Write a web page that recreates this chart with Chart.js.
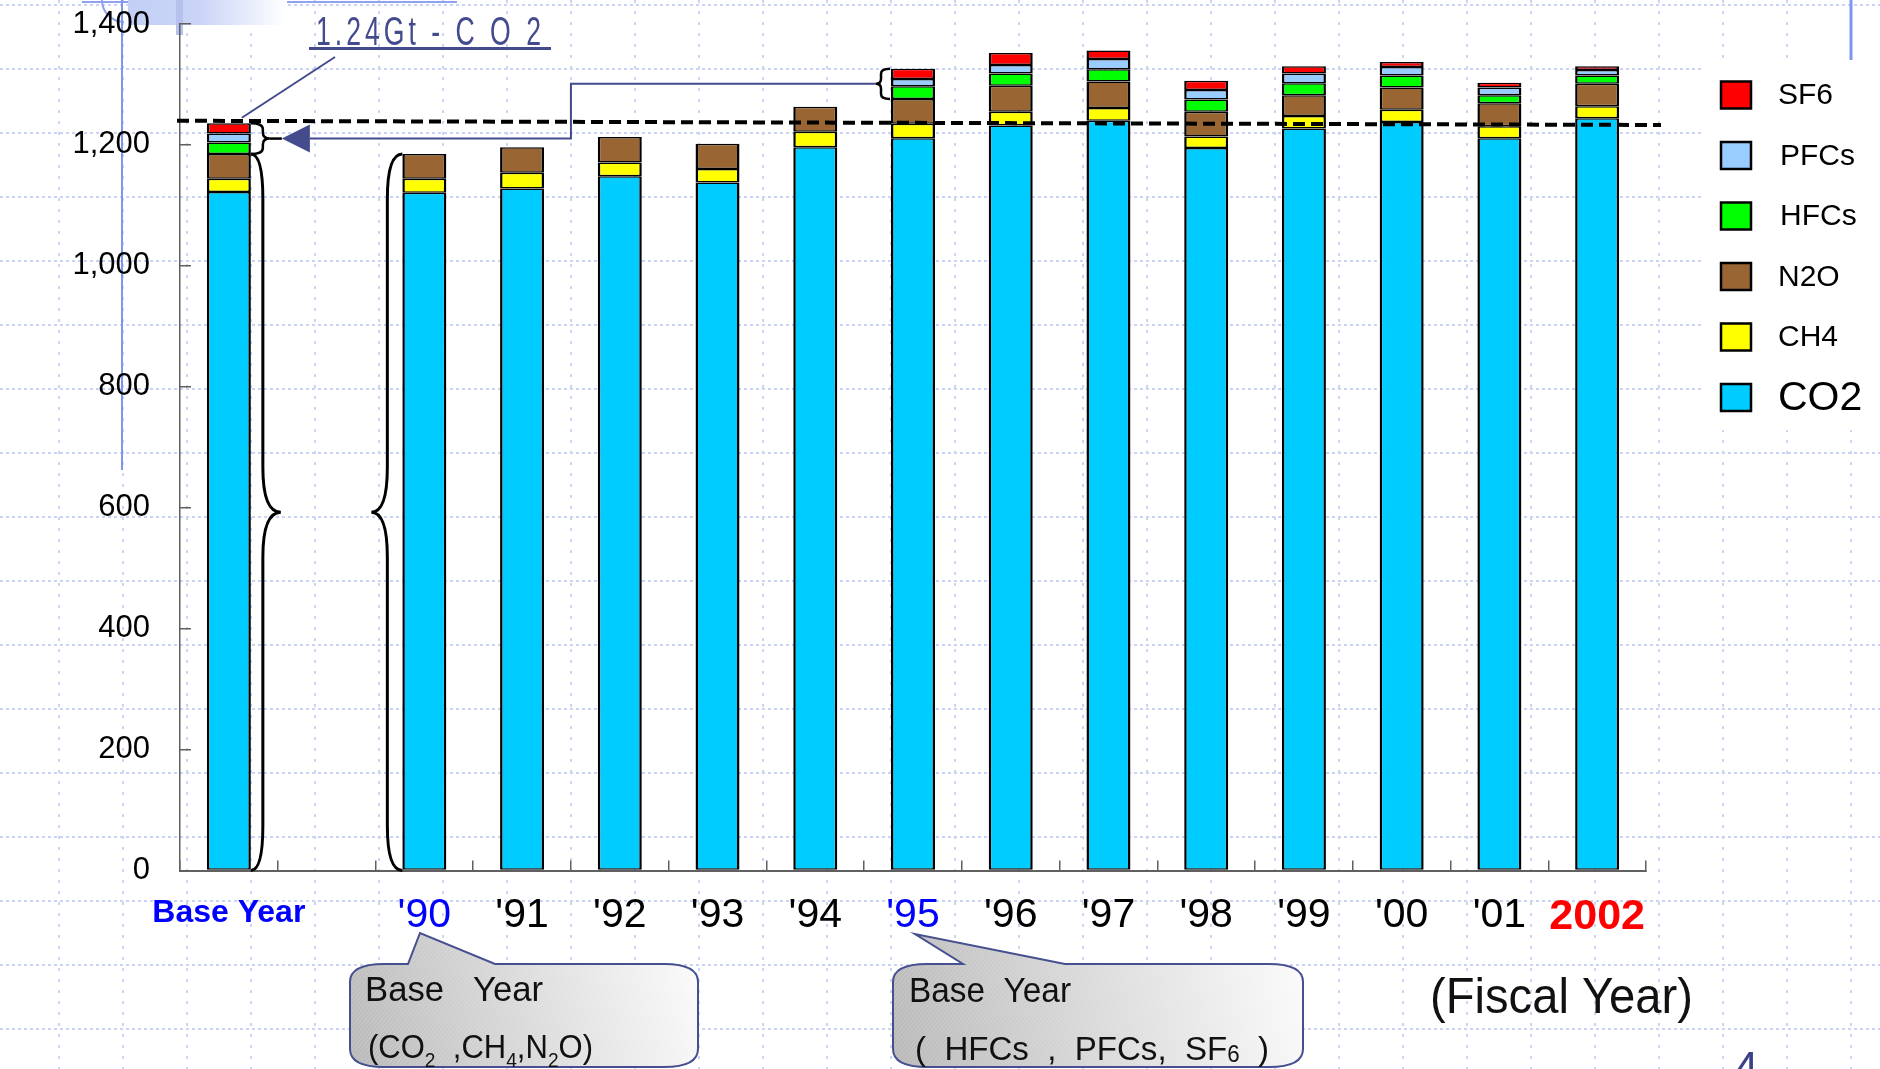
<!DOCTYPE html>
<html><head><meta charset="utf-8">
<script src="https://cdn.jsdelivr.net/npm/chart.js@4.4.1/dist/chart.umd.min.js"></script>
<style>html,body{margin:0;padding:0;background:#fff;overflow:hidden}canvas{display:block}</style>
</head><body>
<canvas id="c" width="1880" height="1069"></canvas>
<script>
// ---------------- data ----------------
const categories = ['Base Year', '', "'90", "'91", "'92", "'93", "'94", "'95", "'96", "'97", "'98", "'99", "'00", "'01", '2002'];
const co2  = [1122, null, 1121, 1128, 1148, 1138, 1196, 1211, 1232, 1240, 1195, 1227, 1238, 1211, 1244];
const ch4  = [22,   null, 23,   26,   23,   22,   26,   24,   23,   21,   19,   21,   20,   20,   20];
const n2o  = [41,   null, 41,   42,   42,   42,   41,   41,   43,   44,   41,   34,   37,   38,   37];
const hfcs = [19,   null, null, null, null, null, null, 21,   20,   20,   20,   20,   20,   13,   14];
const pfcs = [15,   null, null, null, null, null, null, 12,   14,   17,   16,   16,   14,   13,   9];
const sf6  = [17,   null, null, null, null, null, null, 17,   20,   14,   15,   12,   8,    8,    6];
const seriesNames = ['CO2', 'CH4', 'N2O', 'HFCs', 'PFCs', 'SF6'];
const yTickValues = [0, 200, 400, 600, 800, 1000, 1200, 1400];
const refLine = [1240, 1233];          // "1.24Gt - CO2" dashed level (left end, right end)
const annotationText = '1.24Gt - C O 2';
const axisTitle = '(Fiscal Year)';

// ---------------- styles ----------------
const colors = ['#00CCFF', '#FFFF00', '#996633', '#00FF00', '#99CCFF', '#FF0000'];
const seriesData = [co2, ch4, n2o, hfcs, pfcs, sf6];
const FONT = "'Liberation Sans', Arial, sans-serif";
const ANN = '#434b8d';

function stackTop(i, n) { let s = 0; for (let k = 0; k < n; k++) s += (seriesData[k][i] || 0); return s; }

function fitText(ctx, text, x, y, w) {
  const m = ctx.measureText(text).width;
  ctx.save(); ctx.translate(x, y); ctx.scale(w / m, 1); ctx.fillText(text, 0, 0); ctx.restore();
}
function richText(ctx, parts, x, y, w) {
  let total = 0;
  parts.forEach(p => { ctx.font = p.font; p.w = ctx.measureText(p.t).width; total += p.w; });
  ctx.save(); ctx.translate(x, y); ctx.scale(w / total, 1);
  let cx = 0;
  parts.forEach(p => { ctx.font = p.font; ctx.fillText(p.t, cx, p.dy || 0); cx += p.w; });
  ctx.restore();
}
function calloutPath(ctx, L, T, R, B, rx, ry, t1, tipX, tipY, t2) {
  ctx.beginPath();
  ctx.moveTo(L + rx, T);
  ctx.lineTo(t1, T); ctx.lineTo(tipX, tipY); ctx.lineTo(t2, T);
  ctx.lineTo(R - rx, T);
  ctx.quadraticCurveTo(R, T, R, T + ry);
  ctx.lineTo(R, B - ry);
  ctx.quadraticCurveTo(R, B, R - rx, B);
  ctx.lineTo(L + rx, B);
  ctx.quadraticCurveTo(L, B, L, B - ry);
  ctx.lineTo(L, T + ry);
  ctx.quadraticCurveTo(L, T, L + rx, T);
  ctx.closePath();
}
function drawCallout(ctx, L, T, R, B, t1, tipX, tipY, t2) {
  ctx.save();
  calloutPath(ctx, L, T, R, B, 34, 18, t1, tipX, tipY, t2);
  const g = ctx.createLinearGradient(L, B, R, T);
  g.addColorStop(0, '#b9b9b9'); g.addColorStop(0.55, '#dedede'); g.addColorStop(1, '#fbfbfb');
  ctx.fillStyle = g; ctx.fill();
  ctx.clip();
  ctx.strokeStyle = 'rgba(255,255,255,0.18)'; ctx.lineWidth = 1;
  for (let d = -200; d < 600; d += 4) { ctx.beginPath(); ctx.moveTo(L + d, B); ctx.lineTo(L + d + 110, T - 30); ctx.stroke(); }
  ctx.restore();
  ctx.save();
  calloutPath(ctx, L, T, R, B, 34, 18, t1, tipX, tipY, t2);
  ctx.strokeStyle = '#464f8f'; ctx.lineWidth = 2; ctx.stroke();
  ctx.restore();
}
function braceV(ctx, xs, top, bottom, dir, depth, tip, curve) {
  const mid = (top + bottom) / 2;
  const xl = xs + dir * depth, xp = xs + dir * tip;
  const c = Math.min(curve, (bottom - top) / 4);
  ctx.beginPath();
  ctx.moveTo(xs, top);
  ctx.quadraticCurveTo(xl, top, xl, top + c);
  ctx.lineTo(xl, mid - c);
  ctx.quadraticCurveTo(xl, mid, xp, mid);
  ctx.quadraticCurveTo(xl, mid, xl, mid + c);
  ctx.lineTo(xl, bottom - c);
  ctx.quadraticCurveTo(xl, bottom, xs, bottom);
  ctx.stroke();
  return mid;
}

// ---------------- plugins ----------------
const background = {
  id: 'background',
  beforeDraw(chart) {
    const ctx = chart.ctx, W = chart.width, H = chart.height;
    ctx.save();
    ctx.fillStyle = '#fff'; ctx.fillRect(0, 0, W, H);
    ctx.strokeStyle = '#c9d4f6'; ctx.lineWidth = 2;
    ctx.setLineDash([3, 8]);
    for (let x = 59 - 64; x < W; x += 64) { ctx.beginPath(); ctx.moveTo(x, 0); ctx.lineTo(x, H); ctx.stroke(); }
    ctx.setLineDash([3, 3]);
    for (let y = 5; y < H; y += 64) { ctx.beginPath(); ctx.moveTo(0, y); ctx.lineTo(W, y); ctx.stroke(); }
    ctx.setLineDash([]);
    const g = ctx.createLinearGradient(128, 0, 286, 0);
    g.addColorStop(0, '#c4cff6'); g.addColorStop(0.45, '#c9d4f7'); g.addColorStop(1, '#ffffff');
    ctx.fillStyle = g; ctx.fillRect(128, 0, 158, 25);
    ctx.fillStyle = '#b6c1ee'; ctx.fillRect(176, 0, 7, 35);
    ctx.strokeStyle = '#8ea2f0'; ctx.lineWidth = 2;
    ctx.beginPath(); ctx.moveTo(82, 2); ctx.lineTo(128, 2); ctx.moveTo(287, 2); ctx.lineTo(457, 2); ctx.stroke();
    ctx.beginPath(); ctx.arc(124, 0, 22, Math.PI / 2, Math.PI); ctx.stroke();
    ctx.strokeStyle = '#7f96f0';
    ctx.beginPath(); ctx.moveTo(122, 0); ctx.lineTo(122, 470); ctx.stroke();
    ctx.lineWidth = 3;
    ctx.beginPath(); ctx.moveTo(1851, 0); ctx.lineTo(1851, 61); ctx.stroke();
    ctx.fillStyle = '#fff'; ctx.fillRect(1703, 60, 177, 370);
    ctx.restore();
  }
};

const overlay = {
  id: 'overlay',
  afterDatasetsDraw(chart) {
    const ctx = chart.ctx, xs = chart.scales.x, ys = chart.scales.y, ca = chart.chartArea;
    const hw = chart.getDatasetMeta(0).data[0].width / 2;
    ctx.save();
    ctx.strokeStyle = '#000'; ctx.lineWidth = 4; ctx.setLineDash([12, 6]);
    ctx.beginPath();
    ctx.moveTo(ca.left - 3, ys.getPixelForValue(refLine[0]));
    ctx.lineTo(ca.right + 15, ys.getPixelForValue(refLine[1]));
    ctx.stroke();
    ctx.setLineDash([]);
    ctx.strokeStyle = '#000'; ctx.lineWidth = 3;
    const xb = xs.getPixelForValue(0), x90 = xs.getPixelForValue(2), x95 = xs.getPixelForValue(7);
    const y0 = ys.getPixelForValue(0);
    braceV(ctx, xb + hw, ys.getPixelForValue(stackTop(0, 3)), y0, 1, 12, 30, 45);
    braceV(ctx, x90 - hw, ys.getPixelForValue(stackTop(2, 3)), y0, -1, 15, 31, 45);
    ctx.lineWidth = 2.5;
    const midB = braceV(ctx, xb + hw, ys.getPixelForValue(stackTop(0, 6)), ys.getPixelForValue(stackTop(0, 3)), 1, 12, 19, 6);
    ctx.beginPath(); ctx.moveTo(xb + hw + 19, midB); ctx.lineTo(xb + hw + 31, midB); ctx.stroke();
    const mid95 = braceV(ctx, x95 - hw - 1, ys.getPixelForValue(stackTop(7, 6)), ys.getPixelForValue(stackTop(7, 3)), -1, 9, 14, 5);
    ctx.strokeStyle = ANN; ctx.fillStyle = ANN; ctx.lineWidth = 2;
    const tipX = xb + hw + 31, baseX = tipX + 28;
    const turnX = (xs.getPixelForValue(3) + xs.getPixelForValue(4)) / 2;
    ctx.beginPath();
    ctx.moveTo(baseX, midB); ctx.lineTo(turnX, midB); ctx.lineTo(turnX, mid95); ctx.lineTo(x95 - hw - 15, mid95);
    ctx.stroke();
    ctx.beginPath(); ctx.moveTo(tipX, midB); ctx.lineTo(baseX, midB - 14); ctx.lineTo(baseX, midB + 14); ctx.closePath(); ctx.fill();
    ctx.beginPath(); ctx.moveTo(335, 57); ctx.lineTo(xb + 13, ys.getPixelForValue(refLine[0]) - 3); ctx.stroke();
    ctx.restore();
  },
  afterDraw(chart) {
    const ctx = chart.ctx;
    ctx.save();
    ctx.textBaseline = 'alphabetic'; ctx.textAlign = 'left';
    ctx.fillStyle = ANN; ctx.font = `40px ${FONT}`;
    ctx.letterSpacing = '6px';
    fitText(ctx, annotationText, 316, 45, 229);
    ctx.letterSpacing = '0px';
    ctx.fillRect(309, 47, 242, 3);
    drawCallout(ctx, 350, 964, 698, 1067, 408, 420, 933, 495);
    drawCallout(ctx, 893, 964, 1303, 1067, 963, 915, 934, 1065);
    ctx.fillStyle = '#111';
    ctx.font = `35px ${FONT}`;
    fitText(ctx, 'Base   Year', 365, 1001, 178);
    fitText(ctx, 'Base  Year', 909, 1002, 162);
    const N = `34px ${FONT}`, S = `21px ${FONT}`;
    richText(ctx, [{t: '(CO', font: N}, {t: '2', font: S, dy: 9}, {t: '  ,CH', font: N}, {t: '4', font: S, dy: 9},
                   {t: ',N', font: N}, {t: '2', font: S, dy: 9}, {t: 'O)', font: N}], 368, 1058, 225);
    richText(ctx, [{t: '(  HFCs  ,  PFCs,  SF', font: N}, {t: '6', font: `23px ${FONT}`, dy: 2}, {t: '  )', font: N}], 915, 1060, 354);
    ctx.font = `50px ${FONT}`;
    fitText(ctx, axisTitle, 1430, 1013, 263);
    ctx.fillStyle = '#3c3f8a'; ctx.font = `44px ${FONT}`;
    ctx.fillText('4', 1734, 1083);
    ctx.textBaseline = 'middle';
    for (let k = 0; k < 6; k++) {
      const di = 5 - k;
      const yc = 95 + 60.5 * k;
      ctx.fillStyle = colors[di]; ctx.fillRect(1721, yc - 13.5, 30, 27);
      ctx.strokeStyle = '#000'; ctx.lineWidth = 2.5; ctx.strokeRect(1721, yc - 13.5, 30, 27);
      ctx.fillStyle = '#000';
      ctx.font = (di === 0 ? 41 : 30) + `px ${FONT}`;
      ctx.fillText(seriesNames[di], di === 3 || di === 4 ? 1780 : 1778, yc + 1);
    }
    ctx.restore();
  }
};

// ---------------- chart ----------------
const tickColor = i => (i === 0 || i === 2 || i === 7) ? '#0000FF' : (i === 14 ? '#FF0000' : '#000000');
const tickFont = i => i === 0 ? {family: FONT, size: 32, weight: 'bold', lineHeight: 1.35}
                    : (i === 14 ? {family: FONT, size: 43, weight: 'bold', lineHeight: 1.17} : {family: FONT, size: 41});

new Chart(document.getElementById('c'), {
  type: 'bar',
  data: {
    labels: categories,
    datasets: seriesNames.map((name, k) => ({
      label: name,
      data: seriesData[k],
      backgroundColor: colors[k],
      borderColor: '#000',
      borderWidth: {left: 2.5, right: 2.5, top: 1.5, bottom: 1.5},
      borderSkipped: false,
      barPercentage: 0.45,
      categoryPercentage: 1
    }))
  },
  options: {
    responsive: false,
    animation: false,
    devicePixelRatio: 1,
    layout: {padding: {left: 0, right: 234, top: 24, bottom: 0}},
    plugins: {legend: {display: false}, tooltip: {enabled: false}},
    scales: {
      x: {
        stacked: true,
        afterFit(s) { s.height = 198.5; s.paddingLeft = 0; s.paddingRight = 0; },
        border: {color: '#606060', width: 2},
        grid: {drawOnChartArea: false, drawTicks: true, tickLength: -10, color: '#606060', lineWidth: 1.5},
        ticks: {
          autoSkip: false, maxRotation: 0, minRotation: 0, padding: 31,
          color: c => tickColor(c.index),
          font: c => tickFont(c.index)
        }
      },
      y: {
        stacked: true,
        min: 0, max: 1400,
        afterFit(s) { s.width = 180; s.paddingTop = 0; s.paddingBottom = 0; },
        afterBuildTicks(s) { s.ticks = yTickValues.map(v => ({value: v})); },
        border: {color: '#606060', width: 1.5},
        grid: {drawOnChartArea: false, drawTicks: true, tickLength: -11, color: '#606060', lineWidth: 1.5},
        ticks: {
          padding: 41, color: '#000',
          font: {family: FONT, size: 31},
          callback: v => Number(v).toLocaleString('en-US')
        }
      }
    }
  },
  plugins: [background, overlay]
});
</script>
</body></html>
